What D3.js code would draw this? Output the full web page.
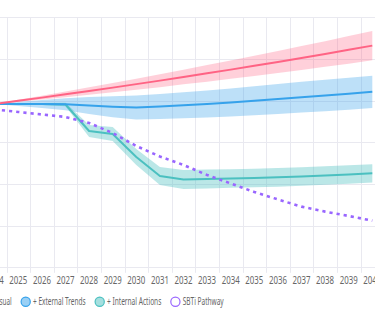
<!DOCTYPE html>
<html><head><meta charset="utf-8">
<script src="https://cdn.jsdelivr.net/npm/d3@7"></script>
<style>html,body{margin:0;padding:0;background:#fff;overflow:hidden}svg{display:block}</style>
</head><body>
<svg id="c" width="375" height="321"></svg>
<script>
const years = [2024,2025,2026,2027,2028,2029,2030,2031,2032,2033,2034,2035,2036,2037,2038,2039,2040];
const bau     = [98,99.9,101.8,103.8,105.8,107.8,109.9,112,114.2,116.4,118.6,120.9,123.2,125.6,128,130.5,133];
const bauHigh = [98,100.5,102.9,105.5,108,110.6,113.2,115.9,118.6,121.4,124.1,127,129.8,132.8,135.7,138.8,141.8];
const bauLow  = [98,99.3,100.7,102.1,103.6,105,106.6,108.1,109.8,111.4,113.1,114.8,116.6,118.4,120.3,122.2,124.2];
const ext     = [98,98,98,97.8,97.1,96.4,95.9,96.5,97.3,98,98.9,100,101,102.1,103.1,104.2,105.3];
const extHigh = [98,99.2,100.4,101.4,102.2,102.7,103.1,104,105.1,106.1,107.3,108.7,110,111.3,112.5,113.8,115];
const extLow  = [98,96.8,95.6,94.2,92,90.1,88.7,89,89.5,89.9,90.5,91.3,92,92.9,93.7,94.6,95.6];
const intl    = [98,98,98,97.7,81.8,80,66.2,54.8,52.7,53,53.3,53.6,54,54.5,55.1,55.7,56.4];
const intHigh = [98,98.3,98.6,98.7,85.4,84.2,71,60.2,58.4,58.7,58.9,59.2,59.6,60,60.6,61.2,61.9];
const intLow  = [98,97.7,97.4,96.7,78.2,75.8,61.4,49.4,47,47.3,47.7,48,48.4,49,49.6,50.2,50.9];
const sbti    = [94.7,93.2,91.7,90.2,86.6,80.6,72.8,66.5,61.4,55.4,50.3,45.2,40.7,36.4,33.4,30.8,28];
const yTicks  = [0,25,50,75,100,125,150];
const legendLabels = ["Business as Usual","+ External Trends","+ Internal Actions","SBTi Pathway"];

const svg = d3.select("#c");
const x = d3.scaleBand().domain(years).range([-17.1, 384.1]).paddingInner(0).paddingOuter(0);
const y = d3.scaleLinear().domain([0,150]).range([267.3, 17.3]);
const cx = yr => x(yr) + x.bandwidth()/2;

const grid = "#e9e9f0";
svg.append("g").selectAll("line").data(yTicks).join("line")
  .attr("x1",0).attr("x2",375)
  .attr("y1",d=>Math.round(y(d))+0.5).attr("y2",d=>Math.round(y(d))+0.5)
  .attr("stroke",grid).attr("stroke-width",1);
svg.append("g").selectAll("line").data(years).join("line")
  .attr("x1",d=>Math.round(x(d))+0.5).attr("x2",d=>Math.round(x(d))+0.5)
  .attr("y1",y(150)).attr("y2",y(0)+5.5)
  .attr("stroke",grid).attr("stroke-width",1);

const col = {
  red:[255,99,132], blue:[54,162,235], teal:[75,192,192], purple:[153,102,255]
};
const rgba=(c,a)=>`rgba(${c[0]},${c[1]},${c[2]},${a})`;

function band(lo,hi,c,a){
  const area = d3.area().x((d,i)=>cx(years[i])).y0((d,i)=>y(lo[i])).y1((d,i)=>y(hi[i]));
  svg.append("path").attr("d",area(years)).attr("fill",rgba(c,a));
}
band(bauLow,bauHigh,col.red,0.3);
band(extLow,extHigh,col.blue,0.33);
band(intLow,intHigh,col.teal,0.38);

function line(vals,c,w,dash){
  const ln = d3.line().x((d,i)=>cx(years[i])).y(d=>y(d));
  const p = svg.append("path").attr("d",ln(vals)).attr("fill","none")
    .attr("stroke",rgba(c,1)).attr("stroke-width",w).attr("stroke-linejoin","round");
  if(dash) p.attr("stroke-dasharray",dash);
}
line(intl,col.teal,2);
line(ext,col.blue,2);
line(bau,col.red,2);
line(sbti,col.purple,2.6,"3.2,4");

const FONT = "'Noto Sans', 'Liberation Sans', sans-serif";
// text squeezed horizontally to a target width via transform
function squeezed(parent, str, px, py, target, size, anchor){
  const g = parent.append("g");
  const t = g.append("text").attr("x",0).attr("y",0).attr("dy","0.35em")
    .attr("font-family",FONT).attr("font-size",size).attr("fill","#666").text(str);
  const w0 = t.node().getComputedTextLength();
  const sx = target / w0;
  const left = anchor === "middle" ? px - target/2 : px;
  g.attr("transform",`translate(${left},${py}) scale(${sx},1)`);
}

const xt = svg.append("g");
years.forEach(yr => squeezed(xt, String(yr), cx(yr), 280, 18, 10.5, "middle"));

const legW = [53,52.7,54.4,41];
const legFill = [rgba(col.red,0.5),rgba(col.blue,0.5),rgba(col.teal,0.5),"#fff"];
const legStroke = [rgba(col.red,1),rgba(col.blue,1),rgba(col.teal,1),rgba(col.purple,1)];
let pos = -48.6;
const lg = svg.append("g");
legendLabels.forEach((lab,i)=>{
  lg.append("circle").attr("cx",pos).attr("cy",301.7).attr("r",4.6)
    .attr("fill",legFill[i]).attr("stroke",legStroke[i]).attr("stroke-width",1.2);
  squeezed(lg, lab, pos+7.3, 301.7, legW[i], 10, "start");
  pos += legW[i] + 21.3;
});
</script>
</body></html>
